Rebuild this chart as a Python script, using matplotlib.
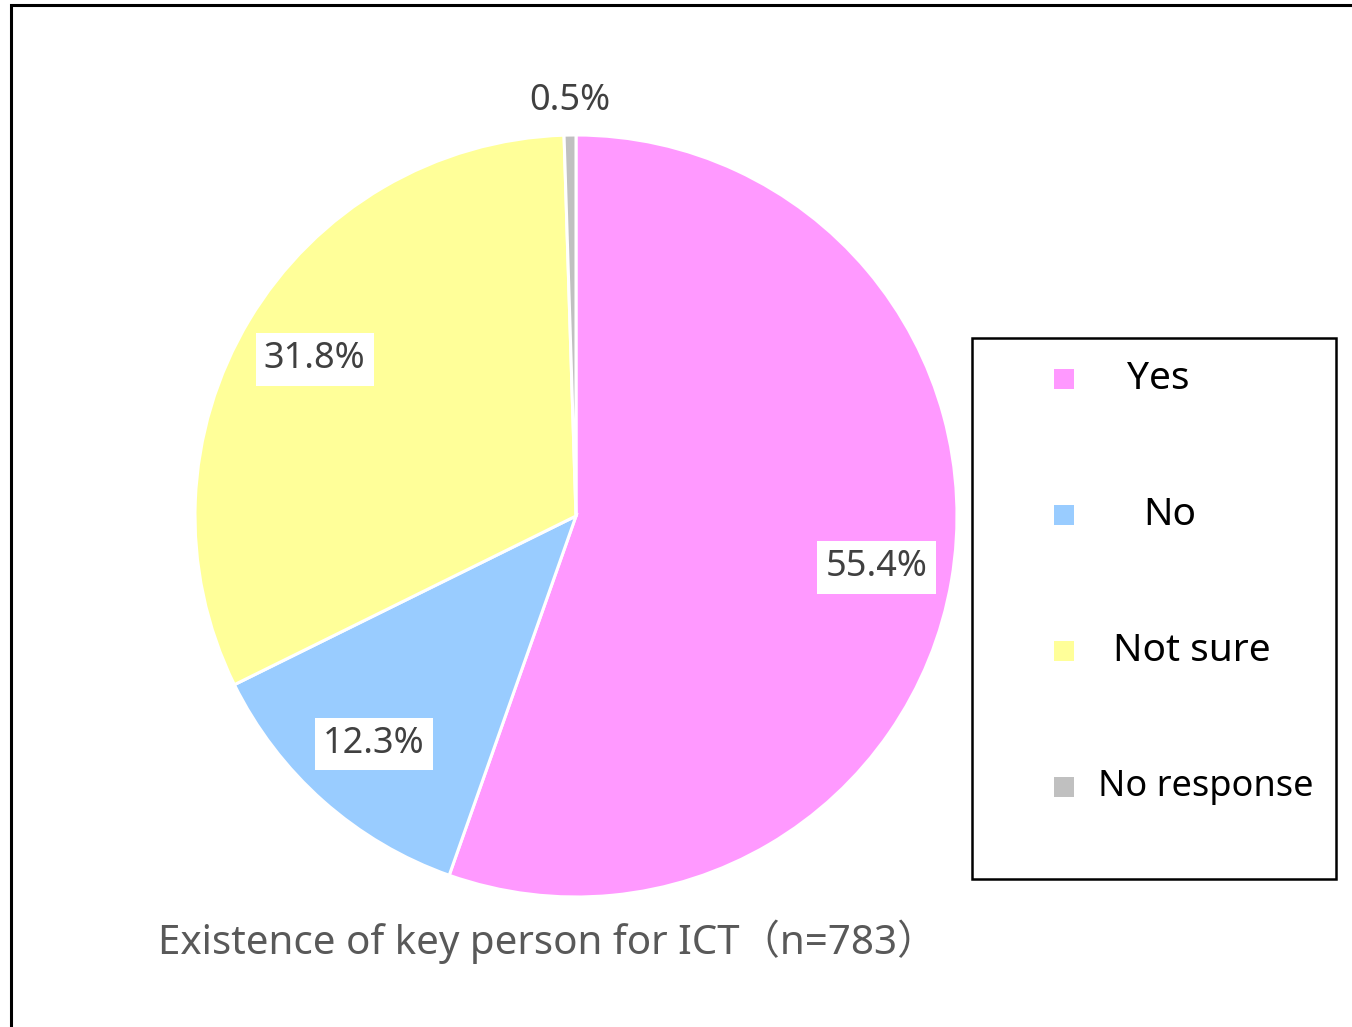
import matplotlib.pyplot as plt
from matplotlib.patches import Rectangle
import numpy as np

categories = ["Yes", "No", "Not sure", "No response"]
shares = [55.4, 12.3, 31.8, 0.5]
colors = ["#FF99FF", "#99CCFF", "#FFFF99", "#C0C0C0"]
title = "Existence of key person for ICT（n=783）"

plt.rcParams['font.family'] = ['Noto Sans', 'Noto Sans CJK JP', 'DejaVu Sans']

W, H = 1352, 1027
fig = plt.figure(figsize=(W / 100, H / 100), dpi=100)

# outer frame (runs off the right and bottom edges)
fig.patches.append(Rectangle((11 / W, -0.05), 1.1, 1 - 5 / H + 0.05,
                             transform=fig.transFigure, fill=False,
                             edgecolor='black', linewidth=2.2))

# pie
cx, cy, r = 576, 516, 381
ax = fig.add_axes([(cx - r) / W, (H - cy - r) / H, 2 * r / W, 2 * r / H])
wedges, texts, autotexts = ax.pie(
    shares, colors=colors, startangle=90, counterclock=False,
    autopct='%.1f%%', pctdistance=0.8,
    wedgeprops=dict(edgecolor='white', linewidth=2.2),
    textprops=dict(fontsize=26, color='#404040'))
ax.set_xlim(-1, 1)
ax.set_ylim(-1, 1)
ax.set_aspect('equal')
ax.axis('off')

for w, t, v in zip(wedges, autotexts, shares):
    if v < 2:
        ang = np.deg2rad((w.theta1 + w.theta2) / 2)
        t.set_position((1.09 * np.cos(ang), 1.09 * np.sin(ang)))
    else:
        t.set_bbox(dict(facecolor='white', edgecolor='none', pad=6))

fig.text(548 / W, 1 - 942 / H, title, ha='center', va='center',
         fontsize=29, color='#595959')

# legend box
lx0, ly0, lx1, ly1 = 972, 338, 1336, 879
fig.patches.append(Rectangle((lx0 / W, 1 - ly1 / H), (lx1 - lx0) / W, (ly1 - ly0) / H,
                             transform=fig.transFigure, fill=False,
                             edgecolor='black', linewidth=1.8))
text_x = [1127, 1143, 1113, 1098]
for i, (cat, col) in enumerate(zip(categories, colors)):
    y = 379 + 136 * i
    fig.patches.append(Rectangle((1054 / W, 1 - (y + 10) / H), 20 / W, 20 / H,
                                 transform=fig.transFigure, facecolor=col,
                                 edgecolor='none'))
    fig.text(text_x[i] / W, 1 - y / H, cat, ha='left', va='center',
             fontsize=28 if i < 3 else 26, color='black')

fig.savefig('out.png', dpi=100, facecolor='white')
